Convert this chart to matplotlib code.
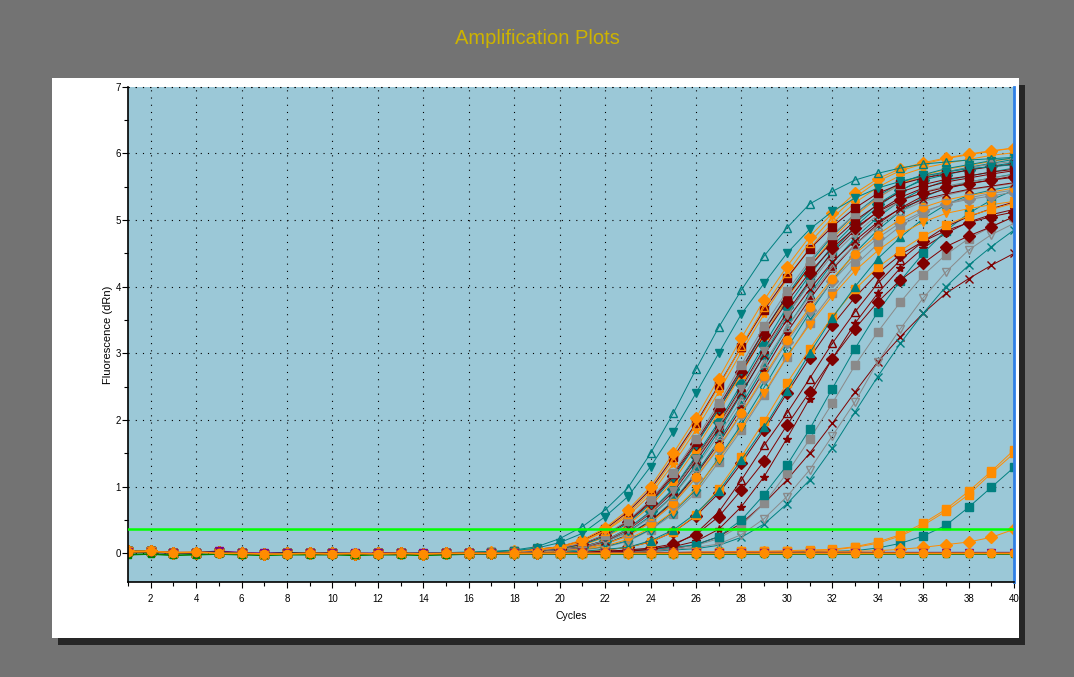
import numpy as np
import matplotlib.pyplot as plt
from matplotlib.patches import Rectangle
from matplotlib.ticker import MultipleLocator

plt.rcParams['font.family'] = ['Liberation Sans', 'DejaVu Sans']

cycles = list(range(1, 41))
threshold = 0.36

# cycles 1-14, shared baseline of the amplifying wells
early = [0.03, 0.03, 0.01, 0.01, 0.02, 0.00, -0.01, 0.00, 0.00, 0.00, -0.01, 0.00, 0.00, -0.01]

# cycles 15-40 for each well
tea_t0 = [0.01,0.02,0.03,0.05,0.10,0.22,0.40,0.65,0.98,1.50,2.10,2.76,3.39,3.95,4.46,4.88,5.24,5.43,5.60,5.70,5.78,5.84,5.87,5.90,5.92,5.94]
tea_v0 = [0.01,0.01,0.02,0.04,0.08,0.16,0.30,0.55,0.85,1.30,1.82,2.40,3.00,3.59,4.05,4.50,4.86,5.13,5.33,5.48,5.58,5.66,5.72,5.77,5.80,5.83]

org_d1 = [0.00,0.01,0.02,0.03,0.06,0.10,0.20,0.38,0.65,1.00,1.50,2.03,2.62,3.23,3.80,4.30,4.75,5.10,5.40,5.62,5.77,5.86,5.93,5.99,6.04,6.08]
org_t1 = [0.00,0.01,0.02,0.03,0.05,0.09,0.18,0.34,0.59,0.93,1.40,1.92,2.50,3.11,3.69,4.20,4.66,5.03,5.34,5.58,5.74,5.84,5.92,5.98,6.03,6.08]
gry_s1 = [0.00,0.00,0.01,0.02,0.04,0.08,0.15,0.28,0.49,0.80,1.21,1.71,2.25,2.83,3.41,3.93,4.39,4.78,5.09,5.34,5.53,5.65,5.72,5.78,5.84,5.88]
red_s1 = [0.00,0.00,0.01,0.02,0.04,0.08,0.14,0.28,0.48,0.78,1.19,1.67,2.20,2.77,3.34,3.85,4.30,4.68,4.99,5.23,5.42,5.53,5.61,5.66,5.72,5.76]
tea_v1 = [0.00,0.00,0.01,0.02,0.04,0.07,0.13,0.25,0.45,0.74,1.13,1.63,2.16,2.74,3.33,3.87,4.35,4.76,5.09,5.36,5.56,5.68,5.77,5.83,5.89,5.93]
red_d1 = [0.00,0.00,0.01,0.02,0.04,0.07,0.14,0.27,0.47,0.76,1.16,1.64,2.16,2.72,3.27,3.77,4.21,4.58,4.88,5.12,5.30,5.41,5.49,5.54,5.60,5.64]
org_st = [0.00,0.01,0.02,0.03,0.05,0.09,0.17,0.33,0.56,0.88,1.34,1.85,2.42,3.02,3.59,4.11,4.57,4.95,5.26,5.49,5.67,5.78,5.85,5.91,5.97,6.01]
gry_v1 = [0.00,0.00,0.01,0.02,0.03,0.06,0.09,0.19,0.36,0.61,0.94,1.41,1.91,2.46,3.04,3.57,4.04,4.47,4.79,5.08,5.28,5.42,5.51,5.57,5.63,5.68]
red_x1 = [0.00,0.00,0.01,0.02,0.03,0.06,0.09,0.18,0.35,0.60,0.92,1.38,1.87,2.41,2.97,3.50,3.96,4.37,4.69,4.97,5.17,5.31,5.39,5.46,5.51,5.56]
org_s1 = [0.00,0.00,0.01,0.02,0.04,0.07,0.12,0.24,0.42,0.71,1.08,1.57,2.11,2.69,3.28,3.82,4.30,4.72,5.06,5.33,5.54,5.67,5.76,5.82,5.88,5.93]
tea_d1 = [0.00,0.00,0.01,0.02,0.03,0.06,0.10,0.19,0.37,0.63,0.97,1.46,1.97,2.54,3.13,3.69,4.17,4.61,4.95,5.24,5.45,5.60,5.68,5.75,5.81,5.86]
gry_t1 = [0.00,0.00,0.01,0.02,0.02,0.05,0.08,0.17,0.31,0.54,0.86,1.29,1.77,2.30,2.85,3.39,3.86,4.29,4.63,4.91,5.13,5.28,5.37,5.45,5.50,5.55]
red_t1 = [0.00,0.00,0.01,0.02,0.03,0.06,0.10,0.19,0.36,0.62,0.95,1.43,1.93,2.49,3.07,3.61,4.09,4.51,4.85,5.13,5.34,5.48,5.57,5.63,5.69,5.74]
org_o1 = [0.00,0.00,0.00,0.01,0.02,0.04,0.07,0.14,0.26,0.46,0.75,1.14,1.60,2.11,2.66,3.20,3.69,4.12,4.49,4.78,5.01,5.19,5.30,5.37,5.42,5.48]
tea_s1 = [0.00,0.00,0.01,0.02,0.02,0.05,0.09,0.17,0.32,0.56,0.87,1.32,1.83,2.39,2.98,3.56,4.07,4.53,4.90,5.20,5.44,5.62,5.72,5.79,5.85,5.91]
gry_d1 = [0.00,0.00,0.00,0.01,0.02,0.04,0.07,0.14,0.26,0.46,0.74,1.13,1.58,2.09,2.63,3.17,3.65,4.08,4.44,4.73,4.96,5.13,5.24,5.31,5.36,5.42]
red_st = [0.00,0.00,0.00,0.01,0.02,0.04,0.08,0.14,0.27,0.48,0.77,1.18,1.65,2.18,2.74,3.31,3.81,4.26,4.63,4.94,5.18,5.36,5.47,5.55,5.60,5.66]
org_v1 = [0.00,0.00,0.00,0.01,0.02,0.05,0.06,0.11,0.21,0.38,0.63,0.97,1.41,1.89,2.41,2.95,3.43,3.86,4.24,4.54,4.79,4.97,5.10,5.17,5.23,5.28]
tea_t2 = [0.00,0.00,0.00,0.01,0.02,0.04,0.08,0.14,0.28,0.49,0.79,1.20,1.69,2.23,2.80,3.38,3.89,4.35,4.73,5.04,5.29,5.47,5.59,5.66,5.72,5.78]
gry_s2 = [0.00,0.00,0.00,0.01,0.02,0.03,0.05,0.09,0.18,0.35,0.59,0.91,1.37,1.85,2.38,2.94,3.46,3.91,4.32,4.64,4.91,5.11,5.25,5.33,5.40,5.45]
tea_dd = [0.00,0.00,0.00,0.01,0.02,0.03,0.06,0.10,0.19,0.36,0.62,0.95,1.43,1.93,2.49,3.07,3.61,4.09,4.51,4.85,5.13,5.34,5.48,5.57,5.63,5.69]
red_s2 = [0.00,0.01,0.02,0.03,0.06,0.10,0.19,0.36,0.62,0.96,1.44,1.95,2.52,3.10,3.65,4.13,4.56,4.90,5.18,5.40,5.54,5.63,5.69,5.75,5.80,5.84]
tea_tf = [0.00,0.00,0.00,0.00,0.01,0.02,0.03,0.06,0.09,0.19,0.35,0.60,0.93,1.40,1.89,2.44,3.00,3.53,4.00,4.42,4.74,5.02,5.23,5.37,5.45,5.51]

# later wells
red_t2 = [0.00,0.00,0.00,0.00,0.01,0.01,0.02,0.02,0.03,0.06,0.12,0.30,0.62,1.10,1.62,2.10,2.62,3.15,3.62,4.05,4.40,4.68,4.90,5.05,5.17,5.27]
red_d2 = [0.00,0.00,0.00,0.00,0.01,0.01,0.02,0.03,0.05,0.08,0.14,0.28,0.55,0.95,1.38,1.92,2.42,2.92,3.37,3.77,4.10,4.35,4.60,4.76,4.90,5.05]
red_d3 = [0.00,0.00,0.00,0.00,0.01,0.02,0.03,0.05,0.09,0.17,0.32,0.56,0.90,1.35,1.85,2.40,2.93,3.42,3.84,4.20,4.48,4.68,4.84,4.96,5.05,5.12]
tea_s2 = [0.00,0.00,0.00,0.00,0.01,0.01,0.02,0.03,0.04,0.06,0.09,0.13,0.25,0.50,0.88,1.32,1.86,2.47,3.07,3.62,4.09,4.50,4.84,5.10,5.30,5.45]
gry_s3 = [0.00,0.00,0.00,0.00,0.01,0.01,0.02,0.03,0.04,0.05,0.08,0.12,0.22,0.42,0.75,1.20,1.71,2.25,2.82,3.32,3.77,4.17,4.48,4.72,4.90,5.05]
red_st2 = [0.00,0.00,0.00,0.00,0.01,0.01,0.02,0.03,0.04,0.06,0.10,0.18,0.36,0.70,1.15,1.72,2.32,2.92,3.45,3.90,4.28,4.58,4.80,4.97,5.08,5.16]
gry_v2 = [0.00,0.00,0.00,0.00,0.00,0.01,0.01,0.02,0.03,0.04,0.06,0.09,0.14,0.28,0.52,0.85,1.25,1.76,2.27,2.87,3.37,3.83,4.22,4.55,4.78,4.95]
tea_x1 = [0.00,0.00,0.00,0.00,0.00,0.01,0.01,0.02,0.02,0.03,0.05,0.07,0.12,0.24,0.44,0.74,1.10,1.58,2.12,2.65,3.15,3.60,4.00,4.32,4.60,4.85]
red_x2 = [0.00,0.00,0.00,0.00,0.00,0.01,0.01,0.02,0.03,0.04,0.07,0.13,0.25,0.45,0.75,1.10,1.50,1.95,2.42,2.87,3.25,3.60,3.90,4.12,4.32,4.50]
org_s2 = [0.00,0.00,0.00,0.00,0.01,0.02,0.03,0.05,0.09,0.17,0.32,0.57,0.97,1.45,1.98,2.55,3.06,3.55,3.96,4.29,4.54,4.76,4.93,5.06,5.16,5.25]

# very late risers
org_s3 = [0.00,0.01,0.00,0.01,0.00,0.01,0.00,0.01,0.01,0.02,0.01,0.02,0.02,0.03,0.03,0.04,0.05,0.06,0.10,0.17,0.28,0.45,0.66,0.93,1.23,1.55]
org_s4 = [0.00,0.00,0.00,0.00,0.00,0.00,0.01,0.01,0.01,0.01,0.01,0.02,0.02,0.02,0.03,0.03,0.04,0.05,0.09,0.15,0.26,0.42,0.63,0.88,1.20,1.50]
tea_s3 = [0.00,0.00,0.00,0.00,0.00,0.00,0.00,0.00,0.01,0.01,0.01,0.01,0.01,0.02,0.02,0.02,0.03,0.03,0.04,0.08,0.15,0.26,0.42,0.69,0.99,1.29]
org_d2 = [0.00,0.00,0.00,0.00,0.00,0.00,0.00,0.01,0.01,0.01,0.01,0.01,0.01,0.02,0.02,0.02,0.02,0.03,0.03,0.04,0.06,0.09,0.13,0.17,0.24,0.36]

# non-amplifying wells, cycles 1-40
flat_pur = [0.02,0.02,0.01,0.01,0.03,0.01,0.00,0.01,0.00,0.00,0.00,0.00,0.00,0.00,0.00,0.00,0.00,0.00,0.00,0.00,
            0.01,0.01,0.01,0.01,0.01,0.01,0.01,0.01,0.01,0.01,0.01,0.01,0.01,0.01,0.01,0.01,0.01,0.01,0.01,0.01]
flat_grn = [-0.02,-0.01,-0.03,-0.02,-0.01,-0.02,-0.03,-0.02,-0.02,-0.02,-0.03,-0.02,-0.02,-0.03,-0.02,-0.01,-0.01,-0.01,-0.01,-0.01,
            -0.01,-0.01,-0.01,-0.01,-0.01,-0.01,-0.01,-0.01,-0.01,-0.01,-0.01,-0.01,-0.01,-0.01,-0.01,-0.01,-0.01,-0.01,-0.01,-0.01]
flat_dk = [0.01,0.02,0.00,0.01,0.02,0.00,-0.01,0.01,0.00,0.00,0.00,-0.01,0.00,0.00,0.00,0.00,0.00,0.00,0.00,0.00,
           0.00,0.00,0.00,0.00,0.00,0.00,0.00,0.00,0.00,0.00,0.00,0.00,0.00,0.00,0.00,0.00,0.00,0.00,0.00,0.00]
flat_org = [0.02,0.03,0.01,0.02,0.00,0.00,-0.01,-0.01,0.00,-0.01,0.00,-0.01,0.00,-0.01,0.00,0.00,0.00,0.00,0.00,0.00,
            0.00,0.00,0.00,0.00,0.00,0.00,0.00,0.00,0.00,0.00,0.00,0.00,0.00,0.00,0.00,0.00,0.00,0.00,0.00,0.00]

TEAL = '#008080'
DRED = '#800000'
ORNG = '#FF8C00'
GRAY = '#8A8A8A'

wells = [
    (red_x2, DRED, 'x', True), (tea_x1, TEAL, 'x', True), (gry_v2, GRAY, 'v', False),
    (gry_s3, GRAY, 's', True), (red_st2, DRED, '*', True), (tea_s2, TEAL, 's', True),
    (red_d2, DRED, 'D', True), (red_d3, DRED, 'D', True), (red_t2, DRED, '^', False),
    (org_s2, ORNG, 's', True), (tea_tf, TEAL, '^', True),
    (gry_s2, GRAY, 's', True), (tea_dd, TEAL, 'd', False), (org_v1, ORNG, 'v', True),
    (tea_t2, TEAL, '^', False), (red_st, DRED, '*', True), (gry_d1, GRAY, 'D', True),
    (tea_s1, TEAL, 's', True), (org_o1, ORNG, 'o', True), (red_t1, DRED, '^', False),
    (gry_t1, GRAY, '^', False), (tea_d1, TEAL, 'D', True), (org_s1, ORNG, 's', True),
    (red_x1, DRED, 'x', True), (gry_v1, GRAY, 'v', True), (org_st, ORNG, '*', True),
    (red_d1, DRED, 'D', True), (tea_v1, TEAL, 'v', True), (red_s1, DRED, 's', True),
    (gry_s1, GRAY, 's', True), (red_s2, DRED, 's', True), (org_t1, ORNG, '^', False),
    (org_d1, ORNG, 'D', True), (tea_v0, TEAL, 'v', True), (tea_t0, TEAL, '^', False),
    (tea_s3, TEAL, 's', True), (org_s4, ORNG, 's', True), (org_s3, ORNG, 's', True),
    (org_d2, ORNG, 'D', True),
]
flats = [(flat_grn, '#008000', 's', 5.0), (flat_pur, '#800080', 'v', 5.5),
         (flat_dk, '#3C3C3C', 'x', 5.0), (flat_org, ORNG, 'o', 6.0)]

fig = plt.figure(figsize=(10.74, 6.77), dpi=100, facecolor='#737373')

# white panel with its shadow, behind the axes
fig.patches.append(Rectangle((58 / 1074, 1 - 645 / 677), 967 / 1074, 560 / 677,
                             transform=fig.transFigure, facecolor='#262626', edgecolor='none', zorder=-10))
fig.patches.append(Rectangle((52 / 1074, 1 - 638 / 677), 967 / 1074, 560 / 677,
                             transform=fig.transFigure, facecolor='white', edgecolor='none', zorder=-9))

fig.text(0.5, 1 - 39 / 677, 'Amplification Plots', ha='center', va='center',
         color='#CDB300', fontsize=14.5)

ax = fig.add_axes([128 / 1074, 1 - 582 / 677, 886 / 1074, 495.3 / 677])
ax.set_zorder(1)
ax.set_facecolor('#9BC8D7')

for vals, col, mk, filled in wells:
    y = early + vals
    assert len(y) == 40
    ax.plot(cycles, y, color=col, lw=0.7, marker=mk, ms=6,
            mfc=col if filled else 'none', mec=col, mew=1.0)

for vals, col, mk, size in flats:
    ax.plot(cycles, vals, color=col, lw=1.2, marker=mk, ms=size, mfc=col, mec=col, mew=1.0)

ax.axhline(threshold, color='#00FF00', lw=1.8, zorder=5)

ax.set_xlim(1, 40)
ax.set_ylim(-0.43, 7)
ax.set_xticks(range(2, 41, 2))
ax.xaxis.set_minor_locator(MultipleLocator(1))
ax.set_yticks(range(0, 8))
ax.yaxis.set_minor_locator(MultipleLocator(0.5))
ax.tick_params(which='both', direction='out', width=0.8, labelsize=7, colors='black')
ax.tick_params(which='major', length=4)
ax.tick_params(which='minor', length=3)
ax.tick_params(axis='x', pad=5)
ax.tick_params(axis='y', pad=1)

ax.grid(True, which='major', color='black', linestyle=(0, (1, 5.5)), linewidth=0.8)
ax.set_axisbelow(True)

ax.spines['top'].set_visible(False)
ax.axhline(7, color='black', linestyle=(0, (1, 5.5)), linewidth=0.8, clip_on=False)
ax.spines['left'].set_linewidth(1.2)
ax.spines['bottom'].set_linewidth(1.2)
ax.spines['right'].set_color('#2F7FE6')
ax.spines['right'].set_linewidth(2)

ax.set_xlabel('Cycles', fontsize=7.5, labelpad=5)
ax.set_ylabel('Fluorescence (dRn)', fontsize=8, labelpad=2)

fig.savefig('out.png', dpi=100, facecolor=fig.get_facecolor())
